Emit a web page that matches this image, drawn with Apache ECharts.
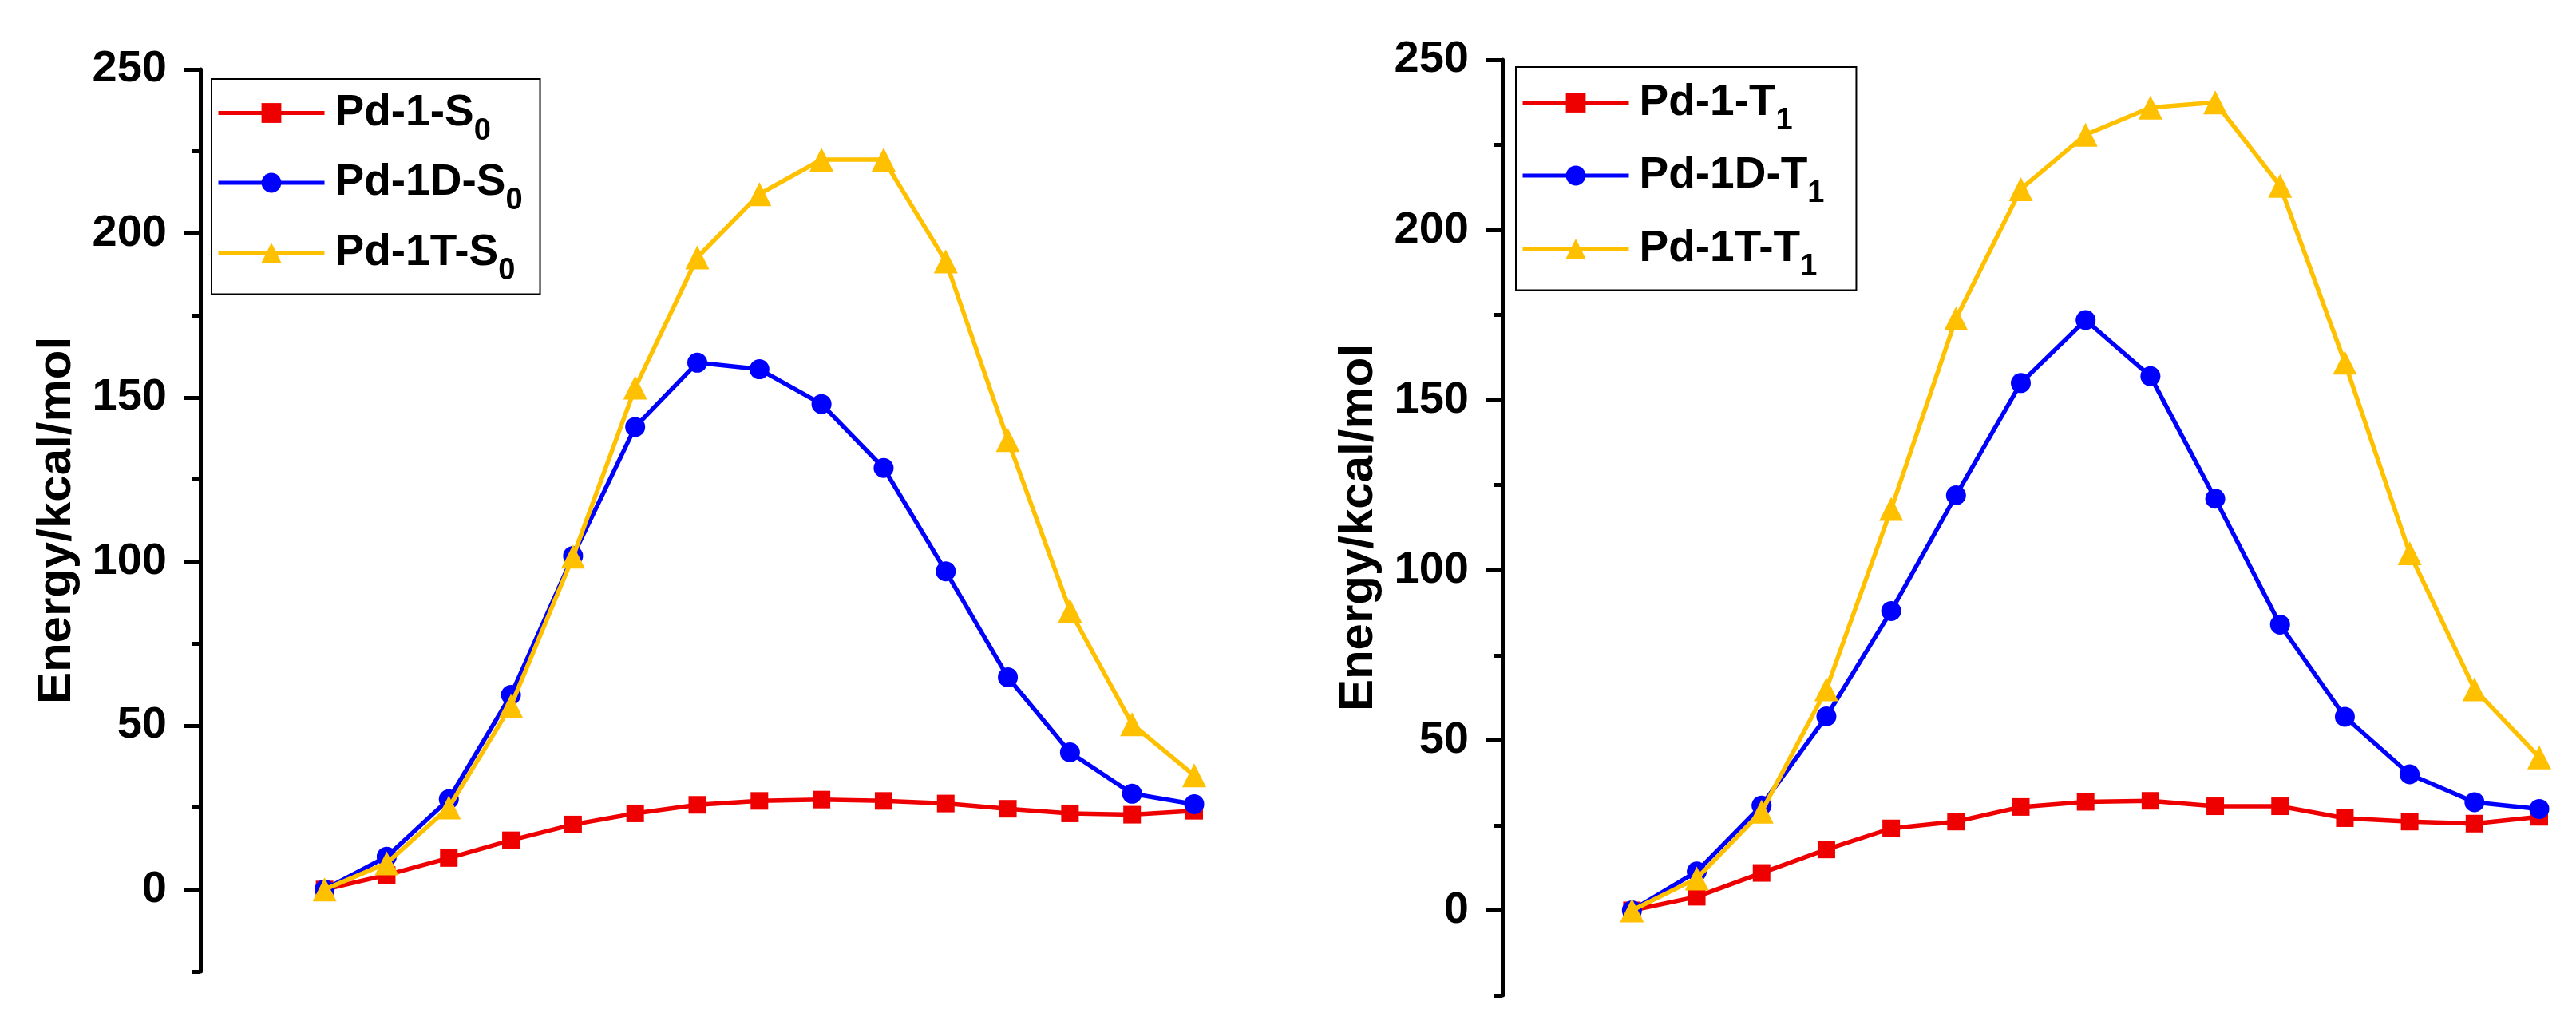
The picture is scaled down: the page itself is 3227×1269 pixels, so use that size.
<!DOCTYPE html>
<html>
<head>
<meta charset="utf-8">
<script src="https://cdn.jsdelivr.net/npm/echarts@6/dist/echarts.min.js"></script>
<style>
html,body{margin:0;padding:0;background:#fff;}
#c{width:3227px;height:1269px;}
</style>
</head>
<body>
<div id="c"></div>
<script>
// ---- data ----
const steps = [0,1,2,3,4,5,6,7,8,9,10,11,12,13,14];

const leftNames = ['Pd-1-S', 'Pd-1D-S', 'Pd-1T-S'];
const leftSub = '0';
const leftRed    = [0, 4.4, 9.6, 15, 19.8, 23.2, 25.8, 27, 27.4, 27, 26.2, 24.6, 23.2, 22.8, 24];
const leftBlue   = [0, 10, 27.5, 59.3, 101.7, 141, 160.6, 158.6, 148, 128.5, 97, 64.7, 41.8, 29.2, 26];
const leftYellow = [0, 8, 25, 56, 101.5, 153, 192.7, 212, 222.5, 222.5, 191.5, 137, 85, 50.4, 34.8];

const rightNames = ['Pd-1-T', 'Pd-1D-T', 'Pd-1T-T'];
const rightSub = '1';
const rightRed    = [0, 4, 11, 17.9, 24.1, 26.1, 30.4, 31.9, 32.2, 30.6, 30.6, 27.1, 26.1, 25.5, 27.5];
const rightBlue   = [0, 11.4, 30.8, 57, 88, 122, 155, 173.5, 157, 121, 84, 56.9, 40, 31.8, 29.8];
const rightYellow = [0, 9.4, 29, 65, 118, 174, 212, 228, 236, 237.5, 213, 161, 105, 65, 45];

// tick positions along the energy axis (minor ticks sit between the labelled major ones)
const tickValues = ['-25', '0', '25', '50', '75', '100', '125', '150', '175', '200', '225', '250'];
const majorLabels = ['0', '50', '100', '150', '200', '250'];
const yTitle = 'Energy/kcal/mol';

// ---- styles ----
const FONT = "'Liberation Sans', Arial, sans-serif";
const colors = ['#ee0000', '#0000ff', '#ffc000'];
const symbols = ['rect', 'circle', 'triangle'];
const symbolSizes = [22, 25, 30];
const isMajor = (i, v) => majorLabels.indexOf(String(v)) > -1 || majorLabels.indexOf(tickValues[i]) > -1;

function pairs(arr){ return arr.map((v,i)=>[steps[i], v]); }

function yAxes(gridIndex){
  const yMin = Number(tickValues[0]), yMax = Number(tickValues[tickValues.length-1]);
  const cat = {gridIndex, type:'category', position:'left', data: tickValues, boundaryGap:false,
               axisLine:{show:false, onZero:false}, splitLine:{show:false}};
  return [
    {
      gridIndex, type:'value', position:'left', min:yMin, max:yMax, splitLine:{show:false},
      name: yTitle, nameLocation:'middle', nameGap:150,
      nameTextStyle:{fontFamily:FONT, fontWeight:'bold', fontSize:60, color:'#000'},
      axisLine:{show:true, onZero:false, lineStyle:{color:'#000', width:5}},
      axisTick:{show:false},
      axisLabel:{show:false}
    },
    Object.assign({}, cat, {
      axisTick:{show:true, interval:(i, v)=> !isMajor(i, v), length:11, lineStyle:{color:'#000', width:5}},
      axisLabel:{show:false}
    }),
    Object.assign({}, cat, {
      axisTick:{show:true, interval:(i, v)=> isMajor(i, v), length:21, lineStyle:{color:'#000', width:5}},
      axisLabel:{show:true, interval:(i, v)=> isMajor(i, v), margin:42, fontFamily:FONT, fontWeight:'bold', fontSize:56, color:'#000'}
    })
  ];
}

function legendCfg(names, sub, left, top, pad, gap){
  return {
    orient:'vertical', left, top, padding:pad, itemGap:gap,
    data: names,
    borderColor:'#000', borderWidth:2, backgroundColor:'#fff',
    itemWidth:133, itemHeight:31,
    lineStyle:{width:5},
    formatter: (n)=> '{m|' + n + '}{s|' + sub + '}',
    textStyle:{
      rich:{
        m:{fontFamily:FONT, fontWeight:'bold', fontSize:55, color:'#000', lineHeight:84, padding:[0,0,0,8]},
        s:{fontFamily:FONT, fontWeight:'bold', fontSize:38, color:'#000', lineHeight:38, verticalAlign:'bottom'}
      }
    }
  };
}

function seriesFor(names, datas, xi, yi){
  return names.map((n,k)=>({
    name:n, type:'line', xAxisIndex:xi, yAxisIndex:yi,
    data: pairs(datas[k]),
    symbol: symbols[k], symbolSize: symbolSizes[k],
    itemStyle:{color:colors[k]},
    lineStyle:{color:colors[k], width:5.5},
    smooth:false, animation:false, z: 2+k
  }));
}

const chart = echarts.init(document.getElementById('c'), null, {renderer:'canvas'});
chart.setOption({
  backgroundColor:'#fff',
  animation:false,
  grid:[
    {left:251, top:87, width:1245, height:1130},
    {left:1882, top:75, width:1299, height:1172}
  ],
  xAxis:[
    {gridIndex:0, type:'value', min:-2, max:14, show:false},
    {gridIndex:1, type:'value', min:-2, max:14, show:false}
  ],
  yAxis: yAxes(0).concat(yAxes(1)),
  legend:[
    legendCfg(leftNames, leftSub, 265, 99, [15,22,10,6], 18),
    legendCfg(rightNames, rightSub, 1899, 84, [17,40,10,6], 22)
  ],
  series: seriesFor(leftNames, [leftRed, leftBlue, leftYellow], 0, 0)
    .concat(seriesFor(rightNames, [rightRed, rightBlue, rightYellow], 1, 3))
});
</script>
</body>
</html>
